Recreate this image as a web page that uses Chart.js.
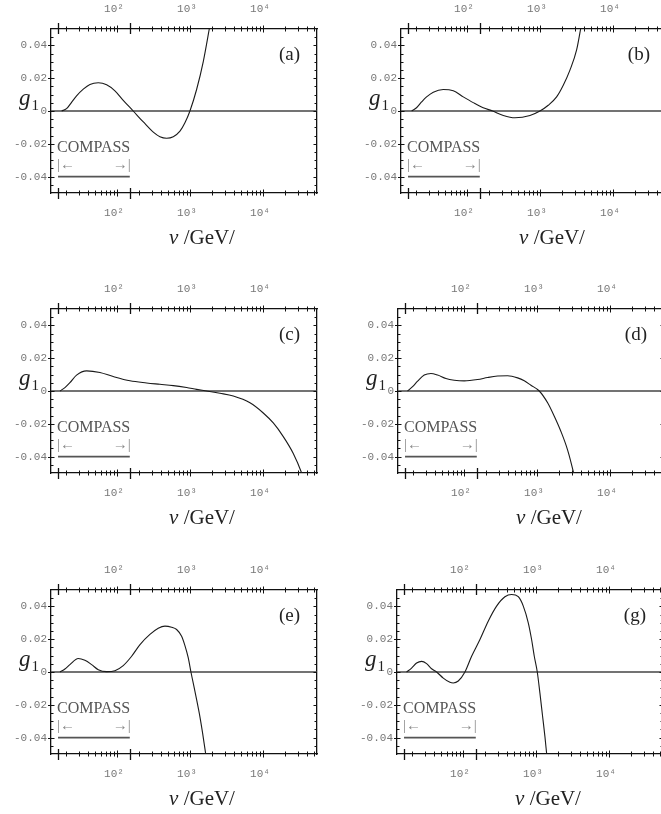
<!DOCTYPE html>
<html>
<head>
<meta charset="utf-8">
<script src="https://cdn.jsdelivr.net/npm/chart.js@4"></script>
<style>
  html, body { margin: 0; padding: 0; background: #fff; overflow: hidden; width: 661px; height: 814px; }
  canvas { position: absolute; }
</style>
</head>
<body>
<canvas id="pa" width="330" height="262"></canvas>
<canvas id="pb" width="330" height="262"></canvas>
<canvas id="pc" width="330" height="262"></canvas>
<canvas id="pd" width="330" height="262"></canvas>
<canvas id="pe" width="330" height="262"></canvas>
<canvas id="pg" width="330" height="262"></canvas>
<script>
// axis ranges and tick labels
const nuMin = 12.5, nuMax = 55000;
const gMin = -0.05, gMax = 0.05;
const nuTickLabels = [100, 1000, 10000];
const gTickLabels = [-0.04, -0.02, 0, 0.02, 0.04];

// COMPASS kinematic range
const compassNu = [15.6, 150];
const compassG = -0.04;

// curves (nu in GeV, g1)
const nuA = [17.5, 20.4, 23.9, 28, 34.6, 42.7, 55.5, 72.2, 93.9, 122, 167, 230, 315, 388, 479, 591, 730, 854, 1000, 1234, 1523, 1840, 2087];
const gA  = [0, 0.0014, 0.0053, 0.0092, 0.0133, 0.0162, 0.0172, 0.016, 0.0123, 0.0065, 0, -0.0067, -0.0129, -0.0157, -0.0166, -0.0157, -0.0123, -0.0072, 0, 0.0131, 0.0301, 0.05, 0.064];

const nuB = [17.5, 20.4, 23.9, 28, 34.6, 47.4, 65, 89, 122, 167, 225, 315, 455, 730, 1000, 1300, 1692, 2087, 2576, 3179, 3606, 3924];
const gB  = [0, 0.002, 0.0055, 0.0086, 0.0115, 0.0131, 0.0123, 0.0086, 0.0051, 0.002, 0, -0.0027, -0.0041, -0.0027, 0, 0.0035, 0.0086, 0.0157, 0.0249, 0.0372, 0.05, 0.0597];

const nuC = [16.6, 19.4, 22.7, 28, 38.4, 58.5, 89, 151, 255, 388, 591, 900, 1234, 1692, 2576, 3924, 6637, 10100, 13850, 18990, 26030, 33880, 37600];
const gC  = [0, 0.0021, 0.0051, 0.0097, 0.0123, 0.0113, 0.0088, 0.0062, 0.0049, 0.0041, 0.0033, 0.0021, 0.001, 0, -0.0014, -0.0031, -0.0072, -0.0134, -0.0195, -0.0278, -0.0381, -0.05, -0.0566];

const nuD = [16.9, 19.8, 23.2, 28.6, 35.3, 43.6, 56.7, 73.7, 101, 154, 211, 289, 397, 544, 671, 827, 1076, 1400, 1728, 2132, 2632, 3179, 3423];
const gD  = [0, 0.0027, 0.006, 0.0097, 0.0107, 0.0097, 0.0076, 0.0066, 0.0062, 0.007, 0.0082, 0.0091, 0.0093, 0.008, 0.0062, 0.0035, 0, -0.0072, -0.0154, -0.0247, -0.036, -0.05, -0.0566];

const nuE = [16.6, 19.4, 22.7, 29.5, 36.4, 45, 55.5, 72.2, 93.9, 122, 159, 207, 283, 368, 455, 561, 657, 769, 854, 949, 1032, 1171, 1342, 1491, 1640, 1728];
const gE  = [0, 0.0018, 0.0045, 0.0082, 0.0071, 0.0045, 0.0014, 0.0002, 0.0008, 0.0039, 0.0096, 0.0167, 0.0229, 0.0267, 0.028, 0.0273, 0.0259, 0.0218, 0.0161, 0.0086, 0, -0.0118, -0.0251, -0.0373, -0.0496, -0.0557];

const nuG = [16.9, 19.8, 23.2, 27.2, 31.8, 37.2, 43.6, 53.8, 66.4, 73.7, 86.3, 106.5, 131.5, 171, 222, 289, 376, 464, 573, 671, 785, 872, 949, 1043, 1134, 1234, 1328, 1400, 1460];
const gG  = [0, 0.0024, 0.0055, 0.0065, 0.0051, 0.002, 0, -0.0037, -0.0063, -0.0067, -0.0055, 0, 0.0096, 0.0198, 0.031, 0.0402, 0.0459, 0.0473, 0.0459, 0.0402, 0.03, 0.0198, 0.0096, 0, -0.0129, -0.0271, -0.0394, -0.0496, -0.0578];

const panels = [
  { id: "pa", tag: "(a)", nu: nuA, g: gA, left: 0,   top: 0 },
  { id: "pb", tag: "(b)", nu: nuB, g: gB, left: 350, top: 0 },
  { id: "pc", tag: "(c)", nu: nuC, g: gC, left: 0,   top: 280 },
  { id: "pd", tag: "(d)", nu: nuD, g: gD, left: 347, top: 280 },
  { id: "pe", tag: "(e)", nu: nuE, g: gE, left: 0,   top: 561 },
  { id: "pg", tag: "(g)", nu: nuG, g: gG, left: 346, top: 561 },
];

const SERIF = "'Liberation Serif', 'DejaVu Serif', serif";
const MONO = "'Liberation Mono', 'DejaVu Sans Mono', monospace";

function seg(ctx, x1, y1, x2, y2) {
  ctx.beginPath();
  ctx.moveTo(x1, y1);
  ctx.lineTo(x2, y2);
  ctx.stroke();
}

// frame ticks, COMPASS marks and the text labels
const decor = {
  id: "decor",
  afterDraw(chart, args, opts) {
    const { ctx, chartArea: a } = chart;
    const x = chart.scales.x, y = chart.scales.y;
    ctx.save();
    ctx.strokeStyle = "#111";
    ctx.lineWidth = 1;

    // log ticks top and bottom
    for (let d = Math.floor(Math.log10(x.min)); d <= Math.ceil(Math.log10(x.max)); d++) {
      for (let k = 1; k < 10; k++) {
        const v = k * Math.pow(10, d);
        if (v < x.min || v > x.max) continue;
        const px = Math.round(x.getPixelForValue(v)) + 0.5;
        const len = k === 1 ? 3.5 : 2.5;
        seg(ctx, px, a.top - len, px, a.top + len);
        seg(ctx, px, a.bottom - len, px, a.bottom + len);
      }
    }

    // linear ticks left and right
    for (let i = -9; i <= 9; i++) {
      const v = i * 0.005;
      const py = Math.round(y.getPixelForValue(v)) + 0.5;
      const major = i % 4 === 0;
      const len = major ? 3.5 : 2.5;
      seg(ctx, a.left - (major ? 3 : 0), py, a.left + len, py);
      seg(ctx, a.right - len, py, a.right, py);
    }

    // COMPASS range marks through the frame
    ctx.lineWidth = 1.3;
    compassNu.forEach(v => {
      const px = Math.round(x.getPixelForValue(v)) + 0.5;
      seg(ctx, px, a.top - 6, px, a.top + 5);
      seg(ctx, px, a.bottom - 5, px, a.bottom + 6);
    });

    const cx0 = x.getPixelForValue(compassNu[0]);
    const cx1 = x.getPixelForValue(compassNu[1]);
    ctx.fillStyle = "#555";
    ctx.font = "16px " + SERIF;
    ctx.textBaseline = "middle";
    ctx.textAlign = "left";
    ctx.fillText("COMPASS", cx0 - 1, y.getPixelForValue(-0.0222));
    ctx.fillStyle = "#888";
    ctx.font = "15px " + SERIF;
    const ay = y.getPixelForValue(-0.0327);
    ctx.fillText("|\u2190", cx0 - 1, ay);
    ctx.textAlign = "right";
    ctx.fillText("\u2192|", cx1 + 1, ay);

    // panel tag
    ctx.fillStyle = "#222";
    ctx.font = "19px " + SERIF;
    ctx.textAlign = "right";
    ctx.textBaseline = "alphabetic";
    ctx.fillText(opts.tag, a.right - 17, a.top + 31);

    // g1 label
    const zy = y.getPixelForValue(0);
    ctx.textAlign = "left";
    ctx.font = "italic 23px " + SERIF;
    ctx.fillText("g", 19, zy - 6);
    const gw = ctx.measureText("g").width;
    ctx.font = "15px " + SERIF;
    ctx.fillText("1", 19 + gw + 1, zy - 1);

    // axis title
    ctx.font = "italic 21px " + SERIF;
    const w1 = ctx.measureText("\u03bd").width;
    ctx.font = "21px " + SERIF;
    const w2 = ctx.measureText(" /GeV/").width;
    const tx = (a.left + a.right) / 2 + 18 - (w1 + w2) / 2;
    const ty = a.bottom + 51;
    ctx.font = "italic 21px " + SERIF;
    ctx.fillText("\u03bd", tx, ty);
    ctx.font = "21px " + SERIF;
    ctx.fillText(" /GeV/", tx + w1, ty);
    ctx.restore();
  }
};

function supLabel(v) {
  const sup = { 2: "\u00b2", 3: "\u00b3", 4: "\u2074" };
  return "10" + sup[Math.round(Math.log10(v))];
}

function nuAxis(position, size) {
  return {
    type: "logarithmic",
    position: position,
    min: nuMin,
    max: nuMax,
    afterBuildTicks: s => { s.ticks = nuTickLabels.map(v => ({ value: v })); },
    afterFit: s => { s.height = size; },
    grid: { display: false, drawTicks: false },
    border: { display: true, color: "#111", width: 1.3 },
    ticks: {
      autoSkip: false,
      maxRotation: 0,
      padding: 13,
      labelOffset: -3,
      color: "#777",
      font: { family: MONO, size: 11 },
      callback: v => supLabel(v)
    }
  };
}

panels.forEach(p => {
  const canvas = document.getElementById(p.id);
  canvas.style.left = p.left + "px";
  canvas.style.top = p.top + "px";

  new Chart(canvas.getContext("2d"), {
    type: "line",
    data: {
      datasets: [
        {
          data: p.nu.map((v, i) => ({ x: v, y: p.g[i] })),
          borderColor: "#1a1a1a",
          borderWidth: 1.1,
          pointRadius: 0,
          cubicInterpolationMode: "monotone",
          fill: false
        },
        {
          data: [{ x: nuMin, y: 0 }, { x: nuMax, y: 0 }],
          borderColor: "#444",
          borderWidth: 1.5,
          pointRadius: 0,
          fill: false
        },
        {
          data: [{ x: compassNu[0], y: compassG }, { x: compassNu[1], y: compassG }],
          borderColor: "#555",
          borderWidth: 1.6,
          pointRadius: 0,
          fill: false
        }
      ]
    },
    options: {
      responsive: false,
      animation: false,
      devicePixelRatio: 1,
      layout: { padding: 0 },
      plugins: {
        legend: { display: false },
        tooltip: { enabled: false },
        decor: { tag: p.tag }
      },
      scales: {
        x: nuAxis("bottom", 262 - 193),
        xTop: nuAxis("top", 29),
        y: {
          type: "linear",
          position: "left",
          min: gMin,
          max: gMax,
          afterBuildTicks: s => { s.ticks = gTickLabels.map(v => ({ value: v })); },
          afterFit: s => { s.width = 51; },
          grid: { display: false, drawTicks: false },
          border: { display: true, color: "#111", width: 1.3 },
          ticks: {
            padding: 4,
            color: "#777",
            font: { family: MONO, size: 11 },
            callback: v => (v === 0 ? "0" : v.toFixed(2))
          }
        },
        yRight: {
          type: "linear",
          position: "right",
          min: gMin,
          max: gMax,
          afterFit: s => { s.width = 13; },
          grid: { display: false, drawTicks: false },
          border: { display: true, color: "#111", width: 1.3 },
          ticks: { display: false }
        }
      }
    },
    plugins: [decor]
  });
});
</script>
</body>
</html>
